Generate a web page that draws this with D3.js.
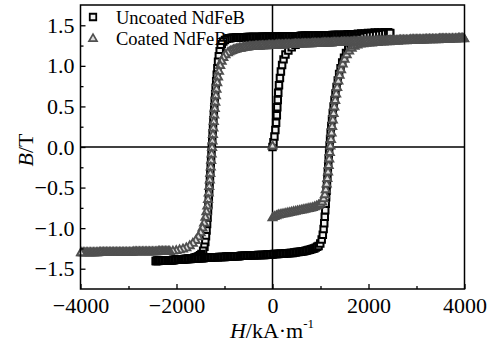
<!DOCTYPE html>
<html><head><meta charset="utf-8">
<script src="https://cdn.jsdelivr.net/npm/d3@7"></script>
<style>body{margin:0;background:#fff}svg{display:block}</style>
</head><body><svg id="c" width="494" height="356"></svg>
<script>
const xTicks=[-4000,-2000,0,2000,4000];
const xMinor=[-3000,-1000,1000,3000];
const yTicks=[-1.5,-1.0,-0.5,0.0,0.5,1.0,1.5];
const yMinor=[-1.25,-0.75,-0.25,0.25,0.75,1.25];
const seriesNames=["Uncoated NdFeB","Coated NdFeB"];

// Uncoated NdFeB  [H (kA/m), B (T)]
const uncoatedVirgin=[[0,0],[20,0.06],[40,0.13],[60,0.21],[75,0.30],[90,0.39],[100,0.49],[110,0.58],[120,0.67],[135,0.76],[155,0.85],[175,0.93],[200,1.01],[230,1.08],[270,1.14],[330,1.19],[400,1.23],[480,1.26],[560,1.28],[640,1.30],[720,1.31],[800,1.32],[870,1.33],[940,1.34],[1010,1.345],[1080,1.35],[1150,1.355],[1220,1.36],[1290,1.365],[1360,1.37],[1430,1.375],[1500,1.38],[1570,1.385],[1640,1.39],[1710,1.39],[1780,1.395],[1850,1.40],[1920,1.40],[1990,1.405],[2060,1.405],[2130,1.41],[2200,1.41],[2270,1.41],[2340,1.415],[2410,1.415]];
const uncoatedDown=[[2450,1.40],[2420,1.40],[2390,1.40],[2360,1.40],[2330,1.40],[2300,1.40],[2270,1.40],[2240,1.40],[2210,1.40],[2180,1.395],[2150,1.395],[2120,1.395],[2090,1.395],[2060,1.395],[2030,1.395],[2000,1.39],[1970,1.39],[1940,1.39],[1910,1.39],[1880,1.39],[1850,1.39],[1820,1.39],[1790,1.39],[1760,1.385],[1730,1.385],[1700,1.385],[1670,1.385],[1640,1.385],[1610,1.385],[1580,1.385],[1550,1.385],[1520,1.38],[1490,1.38],[1460,1.38],[1430,1.38],[1400,1.38],[1370,1.38],[1340,1.38],[1310,1.38],[1280,1.38],[1250,1.38],[1220,1.375],[1190,1.375],[1160,1.375],[1130,1.375],[1100,1.375],[1070,1.375],[1040,1.375],[1010,1.375],[980,1.375],[950,1.375],[920,1.37],[890,1.37],[860,1.37],[830,1.37],[800,1.37],[770,1.37],[740,1.37],[710,1.37],[680,1.37],[650,1.37],[620,1.37],[590,1.37],[560,1.365],[530,1.365],[500,1.365],[470,1.365],[440,1.365],[410,1.365],[380,1.365],[350,1.365],[320,1.365],[290,1.365],[260,1.365],[230,1.365],[200,1.365],[170,1.36],[140,1.36],[110,1.36],[80,1.36],[50,1.36],[20,1.36],[-10,1.36],[-40,1.36],[-70,1.36],[-100,1.36],[-130,1.36],[-160,1.36],[-190,1.36],[-220,1.36],[-250,1.355],[-280,1.355],[-310,1.355],[-340,1.355],[-370,1.355],[-400,1.355],[-430,1.355],[-460,1.355],[-490,1.355],[-520,1.355],[-550,1.35],[-580,1.35],[-610,1.35],[-640,1.35],[-670,1.35],[-700,1.35],[-730,1.35],[-760,1.35],[-790,1.345],[-820,1.345],[-850,1.345],[-880,1.34],[-910,1.34],[-950,1.335],[-990,1.32],[-1025,1.30],[-1055,1.27],[-1080,1.23],[-1100,1.18],[-1118,1.12],[-1134,1.05],[-1148,0.97],[-1161,0.89],[-1173,0.81],[-1184,0.73],[-1194,0.65],[-1204,0.57],[-1213,0.49],[-1222,0.41],[-1231,0.33],[-1239,0.25],[-1247,0.17],[-1255,0.09],[-1263,0.01],[-1271,-0.07],[-1279,-0.15],[-1287,-0.23],[-1295,-0.31],[-1303,-0.39],[-1311,-0.47],[-1319,-0.55],[-1327,-0.63],[-1335,-0.71],[-1344,-0.79],[-1353,-0.87],[-1363,-0.95],[-1374,-1.03],[-1386,-1.10],[-1400,-1.17],[-1418,-1.23],[-1445,-1.28],[-1480,-1.32],[-1510,-1.335],[-1540,-1.345],[-1570,-1.355],[-1600,-1.36],[-1630,-1.365],[-1660,-1.37],[-1690,-1.37],[-1720,-1.375],[-1750,-1.375],[-1780,-1.38],[-1810,-1.38],[-1840,-1.385],[-1870,-1.385],[-1900,-1.385],[-1930,-1.39],[-1960,-1.39],[-1990,-1.39],[-2020,-1.39],[-2050,-1.395],[-2080,-1.395],[-2110,-1.395],[-2140,-1.395],[-2170,-1.40],[-2200,-1.40],[-2230,-1.40],[-2260,-1.40],[-2290,-1.40],[-2320,-1.40],[-2350,-1.40],[-2380,-1.405],[-2410,-1.405],[-2430,-1.405]];
const uncoatedUp=[[-2430,-1.405],[-2400,-1.40],[-2370,-1.40],[-2340,-1.40],[-2310,-1.40],[-2280,-1.40],[-2250,-1.40],[-2220,-1.40],[-2190,-1.395],[-2160,-1.395],[-2130,-1.395],[-2100,-1.395],[-2070,-1.39],[-2040,-1.39],[-2010,-1.39],[-1980,-1.39],[-1950,-1.385],[-1920,-1.385],[-1890,-1.385],[-1860,-1.385],[-1830,-1.38],[-1800,-1.38],[-1770,-1.38],[-1740,-1.38],[-1710,-1.38],[-1680,-1.375],[-1650,-1.375],[-1620,-1.375],[-1590,-1.375],[-1560,-1.37],[-1530,-1.37],[-1500,-1.37],[-1470,-1.37],[-1440,-1.37],[-1410,-1.365],[-1380,-1.365],[-1350,-1.365],[-1320,-1.365],[-1290,-1.365],[-1260,-1.36],[-1230,-1.36],[-1200,-1.36],[-1170,-1.36],[-1140,-1.36],[-1110,-1.355],[-1080,-1.355],[-1050,-1.355],[-1020,-1.355],[-990,-1.355],[-960,-1.35],[-930,-1.35],[-900,-1.35],[-870,-1.35],[-840,-1.35],[-810,-1.345],[-780,-1.345],[-750,-1.345],[-720,-1.345],[-690,-1.345],[-660,-1.34],[-630,-1.34],[-600,-1.34],[-570,-1.34],[-540,-1.34],[-510,-1.34],[-480,-1.335],[-450,-1.335],[-420,-1.335],[-390,-1.335],[-360,-1.335],[-330,-1.335],[-300,-1.33],[-270,-1.33],[-240,-1.33],[-210,-1.33],[-180,-1.33],[-150,-1.33],[-120,-1.325],[-90,-1.325],[-60,-1.325],[-30,-1.325],[0,-1.325],[30,-1.32],[60,-1.32],[90,-1.32],[120,-1.32],[150,-1.315],[180,-1.315],[210,-1.315],[240,-1.315],[270,-1.31],[300,-1.31],[330,-1.31],[360,-1.305],[390,-1.305],[420,-1.305],[450,-1.30],[480,-1.30],[510,-1.295],[540,-1.295],[570,-1.29],[600,-1.29],[630,-1.285],[660,-1.285],[690,-1.28],[720,-1.275],[750,-1.27],[780,-1.265],[810,-1.26],[840,-1.255],[870,-1.25],[900,-1.24],[930,-1.23],[960,-1.22],[995,-1.19],[1025,-1.14],[1048,-1.08],[1065,-1.01],[1078,-0.94],[1089,-0.86],[1099,-0.78],[1108,-0.70],[1117,-0.62],[1126,-0.54],[1135,-0.46],[1144,-0.38],[1153,-0.30],[1162,-0.22],[1171,-0.14],[1180,-0.06],[1190,0.02],[1200,0.10],[1212,0.18],[1225,0.26],[1240,0.34],[1256,0.42],[1273,0.50],[1292,0.58],[1312,0.66],[1335,0.74],[1360,0.82],[1388,0.90],[1418,0.97],[1452,1.04],[1490,1.10],[1532,1.16],[1578,1.21],[1630,1.25],[1690,1.29],[1760,1.32],[1830,1.34],[1900,1.355],[1965,1.365],[2030,1.37],[2095,1.375],[2160,1.38],[2225,1.385],[2290,1.39],[2350,1.395],[2410,1.40],[2450,1.405]];

// Coated NdFeB  [H (kA/m), B (T)]
const coatedStart=[[0,0.02]];
const coatedUp=[[0,-0.865],[40,-0.85],[80,-0.84],[120,-0.83],[160,-0.825],[200,-0.82],[240,-0.815],[280,-0.81],[320,-0.805],[360,-0.80],[400,-0.795],[440,-0.79],[480,-0.785],[520,-0.78],[560,-0.775],[600,-0.77],[640,-0.765],[680,-0.76],[720,-0.755],[760,-0.75],[800,-0.745],[840,-0.74],[880,-0.73],[920,-0.72],[960,-0.71],[1000,-0.695],[1035,-0.67],[1065,-0.63],[1090,-0.58],[1110,-0.52],[1128,-0.45],[1143,-0.38],[1157,-0.30],[1170,-0.22],[1182,-0.14],[1194,-0.06],[1206,0.02],[1218,0.10],[1230,0.18],[1243,0.26],[1257,0.34],[1272,0.42],[1288,0.50],[1306,0.58],[1326,0.66],[1348,0.74],[1372,0.82],[1398,0.89],[1428,0.96],[1462,1.03],[1500,1.09],[1545,1.145],[1595,1.19],[1650,1.225],[1710,1.25],[1770,1.265],[1830,1.275],[1890,1.28],[1950,1.285],[2010,1.29],[2070,1.29],[2130,1.295],[2190,1.295],[2250,1.30],[2310,1.30],[2370,1.305],[2430,1.305],[2490,1.31],[2550,1.31],[2610,1.31],[2670,1.315],[2730,1.315],[2790,1.315],[2850,1.32],[2910,1.32],[2970,1.32],[3030,1.325],[3090,1.325],[3150,1.325],[3210,1.325],[3270,1.33],[3330,1.33],[3390,1.33],[3450,1.33],[3510,1.335],[3570,1.335],[3630,1.335],[3690,1.335],[3750,1.34],[3810,1.34],[3870,1.34],[3930,1.34],[3990,1.34]];
const coatedDown=[[3990,1.345],[3960,1.345],[3930,1.345],[3900,1.345],[3870,1.345],[3840,1.34],[3810,1.34],[3780,1.34],[3750,1.34],[3720,1.34],[3690,1.34],[3660,1.34],[3630,1.34],[3600,1.34],[3570,1.34],[3540,1.34],[3510,1.34],[3480,1.34],[3450,1.335],[3420,1.335],[3390,1.335],[3360,1.335],[3330,1.335],[3300,1.335],[3270,1.335],[3240,1.335],[3210,1.335],[3180,1.335],[3150,1.33],[3120,1.33],[3090,1.33],[3060,1.33],[3030,1.33],[3000,1.33],[2970,1.33],[2940,1.33],[2910,1.33],[2880,1.33],[2850,1.325],[2820,1.325],[2790,1.325],[2760,1.325],[2730,1.325],[2700,1.325],[2670,1.325],[2640,1.325],[2610,1.32],[2580,1.32],[2550,1.32],[2520,1.32],[2490,1.32],[2460,1.32],[2430,1.32],[2400,1.32],[2370,1.315],[2340,1.315],[2310,1.315],[2280,1.315],[2250,1.315],[2220,1.315],[2190,1.315],[2160,1.315],[2130,1.31],[2100,1.31],[2070,1.31],[2040,1.31],[2010,1.31],[1980,1.31],[1950,1.31],[1920,1.31],[1890,1.305],[1860,1.305],[1830,1.305],[1800,1.305],[1770,1.305],[1740,1.305],[1710,1.305],[1680,1.305],[1650,1.30],[1620,1.30],[1590,1.30],[1560,1.30],[1530,1.30],[1500,1.30],[1470,1.30],[1440,1.30],[1410,1.295],[1380,1.295],[1350,1.295],[1320,1.295],[1290,1.295],[1260,1.295],[1230,1.29],[1200,1.29],[1170,1.29],[1140,1.29],[1110,1.29],[1080,1.29],[1050,1.29],[1020,1.285],[990,1.285],[960,1.285],[930,1.285],[900,1.285],[870,1.285],[840,1.285],[810,1.28],[780,1.28],[750,1.28],[720,1.28],[690,1.28],[660,1.28],[630,1.28],[600,1.275],[570,1.275],[540,1.275],[510,1.275],[480,1.275],[450,1.275],[420,1.27],[390,1.27],[360,1.27],[330,1.27],[300,1.27],[270,1.27],[240,1.265],[210,1.265],[180,1.265],[150,1.265],[120,1.265],[90,1.265],[60,1.26],[30,1.26],[0,1.26],[-30,1.26],[-60,1.26],[-90,1.26],[-120,1.255],[-150,1.255],[-180,1.255],[-210,1.255],[-240,1.255],[-270,1.25],[-300,1.25],[-330,1.25],[-360,1.25],[-390,1.245],[-420,1.245],[-450,1.245],[-480,1.245],[-510,1.24],[-540,1.24],[-570,1.235],[-600,1.235],[-630,1.23],[-660,1.225],[-690,1.225],[-720,1.22],[-750,1.215],[-780,1.21],[-810,1.205],[-840,1.197],[-870,1.19],[-900,1.18],[-930,1.17],[-980,1.145],[-1025,1.11],[-1060,1.065],[-1090,1.01],[-1115,0.94],[-1135,0.87],[-1152,0.80],[-1167,0.72],[-1180,0.64],[-1192,0.56],[-1203,0.48],[-1213,0.40],[-1223,0.32],[-1232,0.24],[-1241,0.16],[-1250,0.08],[-1259,0.0],[-1268,-0.08],[-1277,-0.16],[-1286,-0.24],[-1296,-0.32],[-1306,-0.40],[-1317,-0.48],[-1329,-0.56],[-1342,-0.64],[-1358,-0.72],[-1376,-0.79],[-1398,-0.86],[-1425,-0.93],[-1458,-0.99],[-1497,-1.05],[-1545,-1.10],[-1600,-1.145],[-1660,-1.18],[-1725,-1.21],[-1795,-1.235],[-1865,-1.25],[-1935,-1.26],[-2005,-1.27],[-2075,-1.275],[-2140,-1.28],[-2170,-1.28],[-2200,-1.28],[-2230,-1.28],[-2260,-1.28],[-2290,-1.28],[-2320,-1.28],[-2350,-1.28],[-2380,-1.28],[-2410,-1.285],[-2440,-1.285],[-2470,-1.285],[-2500,-1.285],[-2530,-1.285],[-2560,-1.285],[-2590,-1.285],[-2620,-1.285],[-2650,-1.285],[-2680,-1.285],[-2710,-1.285],[-2740,-1.285],[-2770,-1.285],[-2800,-1.285],[-2830,-1.285],[-2860,-1.285],[-2890,-1.285],[-2920,-1.29],[-2950,-1.29],[-2980,-1.29],[-3010,-1.29],[-3040,-1.29],[-3070,-1.29],[-3100,-1.29],[-3130,-1.29],[-3160,-1.29],[-3190,-1.29],[-3220,-1.29],[-3250,-1.29],[-3280,-1.29],[-3310,-1.29],[-3340,-1.29],[-3370,-1.29],[-3400,-1.29],[-3430,-1.29],[-3460,-1.29],[-3490,-1.29],[-3520,-1.29],[-3550,-1.29],[-3580,-1.29],[-3610,-1.29],[-3640,-1.295],[-3670,-1.295],[-3700,-1.295],[-3730,-1.295],[-3760,-1.295],[-3790,-1.295],[-3820,-1.295],[-3850,-1.295],[-3880,-1.295],[-3910,-1.295],[-3940,-1.295],[-3970,-1.295],[-3990,-1.295]];

const svg=d3.select("#c");
const W=494,H=356;
const x=d3.scaleLinear().domain([-4000,4000]).range([80.5,464.5]);
const y=d3.scaleLinear().domain([-1.75,1.75]).range([289,5]);
const font='"Liberation Serif","Times New Roman",serif';

svg.append("rect").attr("width",W).attr("height",H).attr("fill","#fff");

// zero lines
svg.append("line").attr("x1",x(-4000)).attr("x2",x(4000)).attr("y1",y(0)).attr("y2",y(0)).attr("stroke","#000").attr("stroke-width",1.5);
svg.append("line").attr("x1",x(0)).attr("x2",x(0)).attr("y1",y(1.75)).attr("y2",y(-1.75)).attr("stroke","#000").attr("stroke-width",1.5);

const sq=d3.symbol().type(d3.symbolSquare).size(42);
const tri=d3.symbol().type(d3.symbolTriangle).size(28);

function drawSquares(data){
  svg.append("g").selectAll("path").data(data).join("path")
    .attr("d",sq).attr("transform",d=>`translate(${x(d[0])},${y(d[1])})`)
    .attr("fill","#f0f0f0").attr("stroke","#000").attr("stroke-width",2);
}
function drawTriangles(data){
  svg.append("g").selectAll("path").data(data).join("path")
    .attr("d",tri).attr("transform",d=>`translate(${x(d[0])},${y(d[1])+0.8})`)
    .attr("fill","#dcdcdc").attr("stroke","#505050").attr("stroke-width",1.9);
}
drawSquares(uncoatedVirgin);
drawSquares(uncoatedDown);
drawSquares(uncoatedUp);
drawTriangles(coatedStart);
drawTriangles(coatedUp);
drawTriangles(coatedDown);

// axes
const fmtY=d3.format(".1f");
const gx=svg.append("g").attr("transform",`translate(0,${y(-1.75)})`)
  .call(d3.axisBottom(x).tickValues(xTicks).tickSizeInner(-5).tickSizeOuter(0).tickPadding(8).tickFormat(d3.format("d")));
const gxm=svg.append("g").attr("transform",`translate(0,${y(-1.75)})`)
  .call(d3.axisBottom(x).tickValues(xMinor).tickSizeInner(-3).tickSizeOuter(0).tickFormat(""));
const gy=svg.append("g").attr("transform",`translate(${x(-4000)},0)`)
  .call(d3.axisLeft(y).tickValues(yTicks).tickSizeInner(-5).tickSizeOuter(0).tickPadding(6).tickFormat(fmtY));
const gym=svg.append("g").attr("transform",`translate(${x(-4000)},0)`)
  .call(d3.axisLeft(y).tickValues(yMinor).tickSizeInner(-3).tickSizeOuter(0).tickFormat(""));
[gx,gxm,gy,gym].forEach(g=>{
  g.select(".domain").remove();
  g.selectAll(".tick line").attr("stroke","#000").attr("stroke-width",1.3);
  g.selectAll("text").attr("font-family",font).attr("font-size",22).attr("fill","#000");
});

// frame
svg.append("rect").attr("x",x(-4000)).attr("y",y(1.75)).attr("width",x(4000)-x(-4000)).attr("height",y(-1.75)-y(1.75))
  .attr("fill","none").attr("stroke","#000").attr("stroke-width",1.5);

// axis titles
const xt=svg.append("text").attr("x",272).attr("y",338).attr("text-anchor","middle")
  .attr("font-family",font).attr("font-size",22).attr("fill","#000");
xt.append("tspan").attr("font-style","italic").text("H");
xt.append("tspan").text("/kA·m");
xt.append("tspan").attr("font-size",13).attr("dy",-10).text("-1");

const yt=svg.append("text").attr("transform","translate(33,150) rotate(-90)").attr("text-anchor","middle")
  .attr("font-family",font).attr("font-size",22).attr("fill","#000");
yt.append("tspan").attr("font-style","italic").text("B");
yt.append("tspan").text("/T");

// legend
const lg=svg.append("g");
lg.append("path").attr("d",sq).attr("transform","translate(93,17)").attr("fill","#f0f0f0").attr("stroke","#000").attr("stroke-width",1.8);
lg.append("path").attr("d",tri).attr("transform","translate(93,38.8)").attr("fill","#dcdcdc").attr("stroke","#505050").attr("stroke-width",1.7);
lg.selectAll("text").data(seriesNames).join("text")
  .attr("x",116).attr("y",(d,i)=>24+i*21)
  .attr("font-family",font).attr("font-size",18.5).attr("fill","#000").text(d=>d);
</script></body></html>
